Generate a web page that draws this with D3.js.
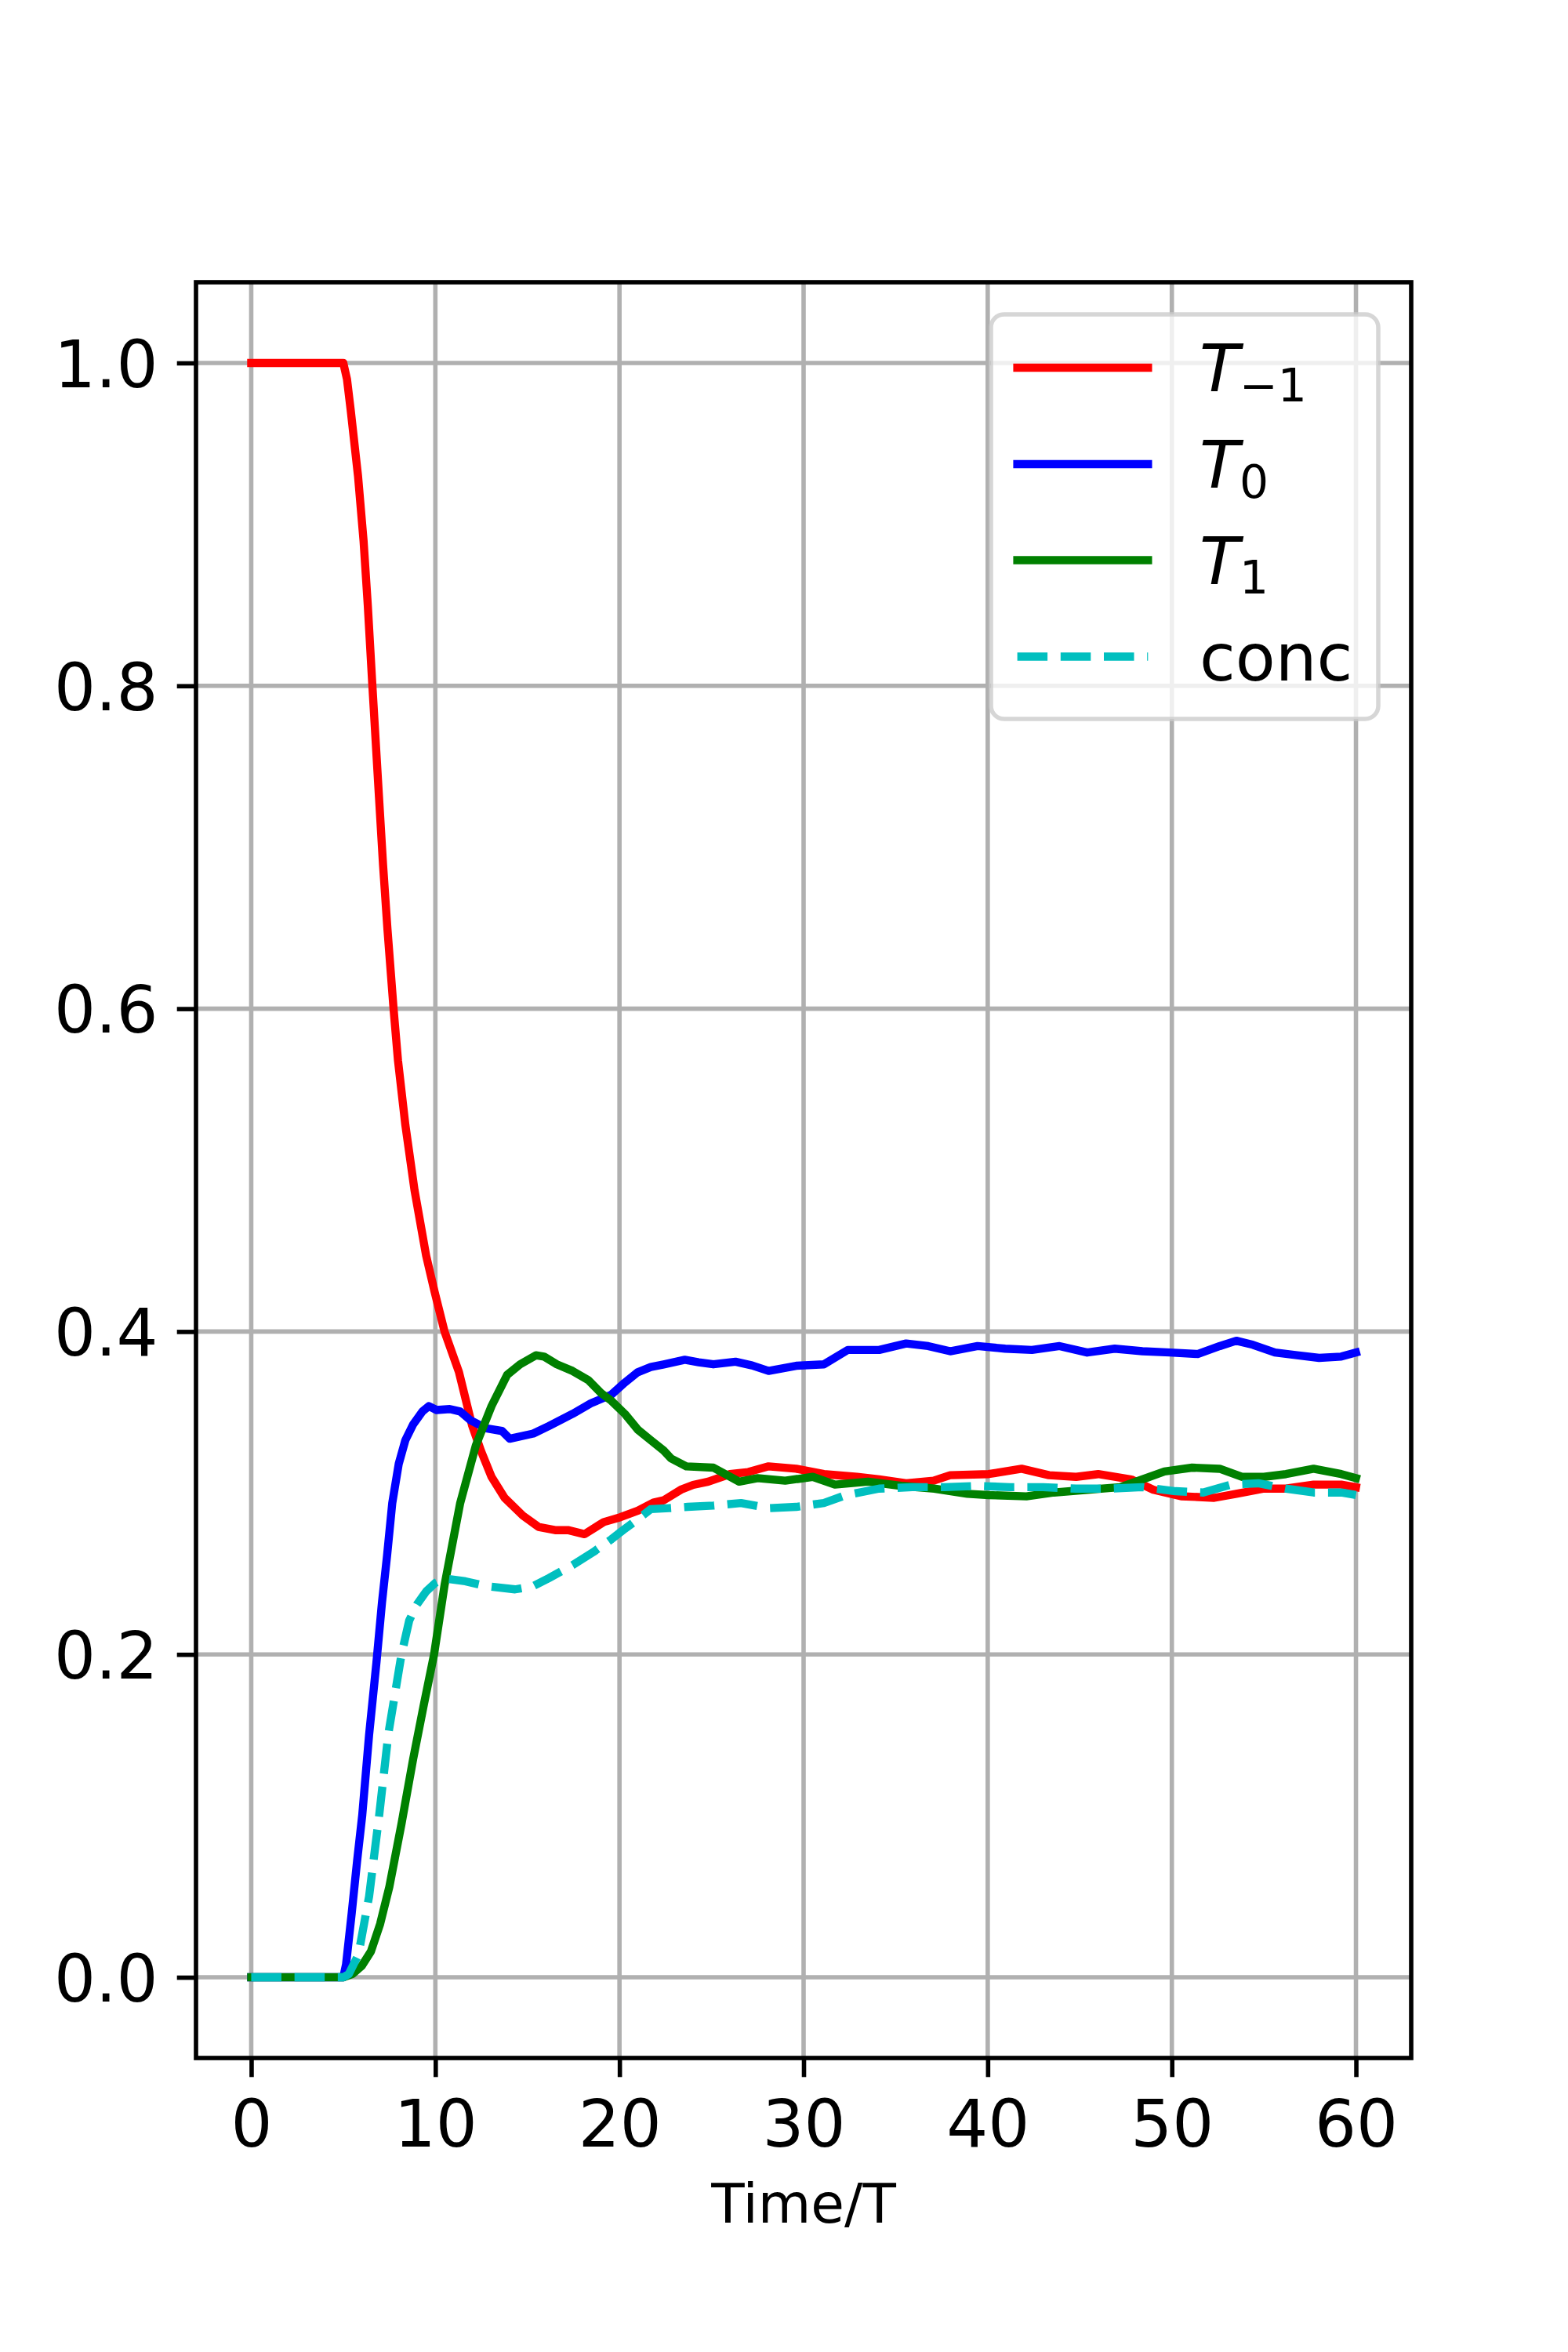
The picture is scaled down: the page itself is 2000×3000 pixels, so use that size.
<!DOCTYPE html>
<html><head><meta charset="utf-8">
<script src="https://cdn.jsdelivr.net/npm/d3@7"></script>
<style>
body{margin:0;background:#fff}
text{font-family:"DejaVu Sans",sans-serif}
</style>
</head><body>
<svg id="c" width="2000" height="3000" xmlns="http://www.w3.org/2000/svg"></svg>
<script>
// ---------------- data ----------------
const xTicks = [0, 10, 20, 30, 40, 50, 60];
const yTicks = [0.0, 0.2, 0.4, 0.6, 0.8, 1.0];
const xLabel = "Time/T";

const tRed = [0,5.0,5.2,5.4,5.8,6.1,6.33,6.58,6.95,7.16,7.4,7.73,7.97,8.37,8.87,9.5,9.95,10.5,11.28,11.99,12.48,13.05,13.76,14.75,15.6,16.5,17.2,18.1,19.15,20.05,21.0,21.84,22.4,23.33,24.0,24.82,26.0,27.0,28.1,29.6,31.1,32.9,34.1,35.57,37.06,37.96,40.05,41.84,43.33,44.8,46.0,47.8,49.0,50.5,52.3,53.5,55.0,56.2,57.7,59.2,60];
const vRed = [1,1,0.99,0.971,0.930,0.890,0.850,0.800,0.729,0.689,0.649,0.600,0.568,0.528,0.4875,0.447,0.425,0.400,0.375,0.342,0.326,0.310,0.297,0.286,0.279,0.277,0.277,0.2745,0.282,0.285,0.289,0.294,0.2955,0.302,0.305,0.307,0.3117,0.313,0.3165,0.315,0.3117,0.310,0.3084,0.306,0.3076,0.311,0.3117,0.315,0.311,0.310,0.3117,0.3084,0.302,0.298,0.297,0.2995,0.3027,0.3027,0.3052,0.3052,0.3036];

const tBlue = [0,5.0,5.15,5.46,5.75,6.03,6.4,6.8,7.1,7.38,7.66,8.01,8.37,8.79,9.3,9.65,10.07,10.78,11.35,11.91,12.77,13.62,14.04,15.32,16.17,17.45,18.44,19.57,20.28,20.99,21.7,22.4,23.55,24.3,25.1,26.3,27.2,28.1,29.6,31.1,32.4,34.1,35.57,36.77,37.96,39.45,40.95,42.4,43.9,45.4,46.9,48.4,49.9,51.4,52.6,53.5,54.4,55.6,56.8,58.0,59.2,60];
const vBlue = [0,0,0.008,0.040,0.072,0.1005,0.150,0.195,0.232,0.2615,0.2938,0.318,0.3327,0.3424,0.3505,0.3538,0.3514,0.352,0.3505,0.345,0.340,0.3384,0.3336,0.3368,0.3415,0.349,0.3555,0.361,0.3683,0.3748,0.378,0.3796,0.3825,0.381,0.3797,0.3813,0.379,0.3756,0.3788,0.3797,0.3886,0.3886,0.3926,0.391,0.3878,0.391,0.3894,0.3886,0.391,0.387,0.3894,0.3878,0.387,0.3861,0.391,0.3943,0.3918,0.387,0.3853,0.3837,0.3845,0.387];

const tGreen = [0,5.0,5.5,6.0,6.5,7.0,7.5,8.16,8.79,9.36,9.93,10.5,11.35,12.2,13.05,13.9,14.6,15.46,15.9,16.6,17.45,18.3,19.0,19.57,20.3,21.0,21.7,22.4,22.8,23.63,25.1,26.5,27.5,29.0,30.5,31.7,33.5,35.3,37.1,38.9,40.05,42.1,43.6,45.4,47.2,48.4,49.6,51.1,52.6,53.8,55.0,56.2,57.7,59.2,60];
const vGreen = [0,0,0.002,0.007,0.016,0.033,0.056,0.095,0.135,0.168,0.200,0.243,0.2938,0.3295,0.3538,0.3732,0.3797,0.3853,0.3845,0.3797,0.3756,0.370,0.3619,0.357,0.3489,0.3392,0.3327,0.3263,0.3214,0.3165,0.3157,0.307,0.3092,0.3076,0.310,0.3052,0.307,0.3044,0.3027,0.2995,0.2987,0.2979,0.3003,0.302,0.3036,0.3084,0.3133,0.3157,0.315,0.310,0.310,0.3117,0.315,0.3117,0.3092];

const tConc = [0,5.0,5.3,5.82,6.4,6.95,7.45,8.16,8.58,9.0,9.5,10.0,10.5,11.63,12.77,14.33,15.32,16.17,17.45,18.58,19.57,20.2,20.85,21.7,22.7,23.7,25.1,26.6,28.1,29.6,31.1,32.3,34.1,35.9,37.66,39.45,41.2,43.0,44.8,46.6,48.4,50.2,51.7,53.2,54.7,56.2,57.7,59.2,60];
const vConc = [0,0,0.002,0.014,0.05,0.1005,0.151,0.200,0.221,0.231,0.239,0.2443,0.247,0.2453,0.2423,0.2403,0.2423,0.2473,0.2553,0.2634,0.2714,0.277,0.2825,0.29,0.2906,0.2914,0.2922,0.2938,0.2906,0.2914,0.2938,0.2987,0.3027,0.3036,0.3036,0.3044,0.3036,0.3036,0.3027,0.3027,0.3036,0.3011,0.3003,0.3052,0.306,0.3027,0.3003,0.3003,0.2987];

const seriesNames = ["T-1", "T0", "T1", "conc"];
const seriesColors = ["#ff0000", "#0000ff", "#008000", "#00bfbf"];

// ---------------- layout ----------------
const L = 250, R = 1800, T = 360, B = 2625;
const LW = 10.4, GW = 5.6, SW = 5.6, TICK = 24.3, FS = 83.3, LFS = 69.4;

const svg = d3.select("#c");
const x = d3.scaleLinear().domain([-3, 63]).range([L, R]);
const y = d3.scaleLinear().domain([-0.05, 1.05]).range([B, T]);

// grid
const grid = svg.append("g");
grid.selectAll(".gx").data(xTicks).enter().append("line")
  .attr("x1", d => x(d)).attr("x2", d => x(d)).attr("y1", T).attr("y2", B)
  .attr("stroke", "#b0b0b0").attr("stroke-width", GW);
grid.selectAll(".gy").data(yTicks).enter().append("line")
  .attr("y1", d => y(d)).attr("y2", d => y(d)).attr("x1", L).attr("x2", R)
  .attr("stroke", "#b0b0b0").attr("stroke-width", GW);

// lines
const series = [
  {t: tRed, v: vRed}, {t: tBlue, v: vBlue}, {t: tGreen, v: vGreen}, {t: tConc, v: vConc}
];
const line = d3.line().x(d => x(d[0])).y(d => y(d[1]));
series.forEach((s, i) => {
  const pts = s.t.map((t, k) => [t, s.v[k]]);
  const p = svg.append("path").datum(pts).attr("d", line)
    .attr("fill", "none").attr("stroke", seriesColors[i]).attr("stroke-width", LW)
    .attr("stroke-linejoin", "round");
  if (i === 3) p.attr("stroke-dasharray", "38.5,16.7").attr("stroke-linecap", "butt");
  else p.attr("stroke-linecap", "square");
});

// axes
const ax = svg.append("g").attr("transform", `translate(0,${B})`)
  .call(d3.axisBottom(x).tickValues(xTicks).tickSize(TICK).tickFormat(d3.format("d")));
ax.select(".domain").remove();
ax.selectAll(".tick line").attr("stroke", "#000").attr("stroke-width", SW);
ax.selectAll(".tick text").attr("y", 113).attr("dy", 0)
  .attr("font-size", FS).attr("font-family", "DejaVu Sans").attr("fill", "#000");

const ay = svg.append("g").attr("transform", `translate(${L},0)`)
  .call(d3.axisLeft(y).tickValues(yTicks).tickSize(TICK).tickFormat(d3.format(".1f")));
ay.select(".domain").remove();
ay.selectAll(".tick line").attr("stroke", "#000").attr("stroke-width", SW);
ay.selectAll(".tick text").attr("x", -48.6).attr("dy", 0).attr("y", 30.4)
  .attr("font-size", FS).attr("font-family", "DejaVu Sans").attr("fill", "#000");

// spines
svg.append("rect").attr("x", L).attr("y", T).attr("width", R - L).attr("height", B - T)
  .attr("fill", "none").attr("stroke", "#000").attr("stroke-width", SW);

// x label
svg.append("text").attr("x", (L + R) / 2).attr("y", 2835).attr("text-anchor", "middle")
  .attr("font-size", LFS).attr("fill", "#000").text(xLabel);

// legend
const lg = svg.append("g");
lg.append("rect").attr("x", 1264).attr("y", 401).attr("width", 494).attr("height", 516)
  .attr("rx", 16.7).attr("ry", 16.7)
  .attr("fill", "#fff").attr("fill-opacity", 0.8)
  .attr("stroke", "#cccccc").attr("stroke-opacity", 0.8).attr("stroke-width", 5.5);
const rowY = [469, 592, 714.5, 837.5];
const subs = ["\u22121", "0", "1"];
seriesNames.forEach((n, i) => {
  const ly = rowY[i];
  const h = lg.append("line").attr("x1", 1297.6).attr("x2", 1464.3).attr("y1", ly).attr("y2", ly)
    .attr("stroke", seriesColors[i]).attr("stroke-width", LW);
  if (i === 3) h.attr("stroke-dasharray", "38.5,16.7").attr("stroke-linecap", "butt");
  else h.attr("stroke-linecap", "square");
  const tx = lg.append("text").attr("x", 1530).attr("y", ly + 30).attr("font-size", FS).attr("fill", "#000");
  if (i < 3) {
    tx.append("tspan").attr("font-style", "italic").text("T");
    tx.append("tspan").attr("font-size", FS * 0.7).attr("dy", 12.5).text(subs[i]);
  } else {
    tx.text("conc");
  }
});
</script>
</body></html>
